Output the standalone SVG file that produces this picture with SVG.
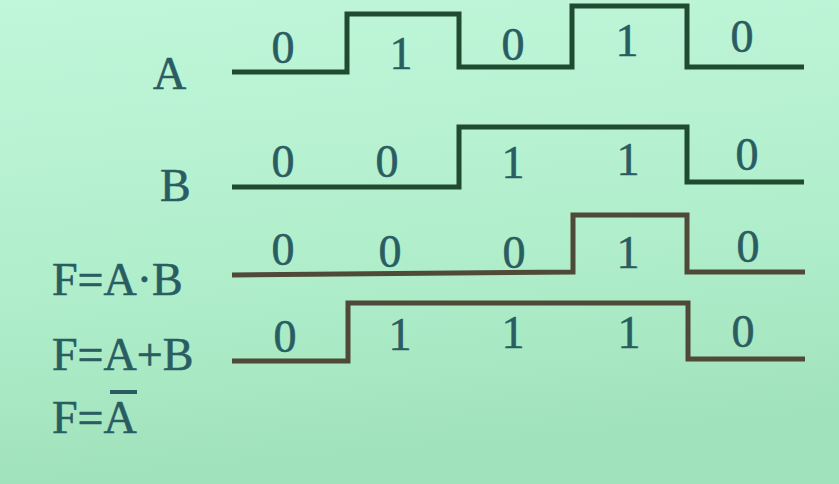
<svg xmlns="http://www.w3.org/2000/svg" width="839" height="484" viewBox="0 0 839 484">
<defs>
<linearGradient id="bg" x1="0" y1="0" x2="0.15" y2="1">
<stop offset="0" stop-color="#c0f6da"/>
<stop offset="0.6" stop-color="#b0eecb"/>
<stop offset="1" stop-color="#a0e2bb"/>
</linearGradient>
</defs>
<style>
.lbl{font-family:'Liberation Serif','DejaVu Serif',serif;font-size:46px;fill:#2a5d62;stroke:#2a5d62;stroke-width:0.6}
.dig{font-family:'Liberation Serif','DejaVu Serif',serif;font-size:46px;fill:#2a5d62;stroke:#2a5d62;stroke-width:0.6;text-anchor:middle}
.wg{fill:none;stroke:#1f4b30;stroke-width:5;stroke-linejoin:miter;stroke-linecap:butt}
.wb{fill:none;stroke:#4f4a38;stroke-width:5;stroke-linejoin:miter;stroke-linecap:butt}
</style>
<rect x="0" y="0" width="839" height="484" fill="url(#bg)"/>
<g id="signal-A">
<text class="lbl" x="153" y="89">A</text>
<path class="wg" d="M232,72 L347,72 L347,14 L459,14 L459,67 L572,67 L572,6 L687,6 L687,67 L804,67"/>
<text class="dig" x="283" y="63">0</text>
<text class="dig" x="401" y="69">1</text>
<text class="dig" x="513" y="60">0</text>
<text class="dig" x="627" y="56">1</text>
<text class="dig" x="742" y="52">0</text>
</g>
<g id="signal-B">
<text class="lbl" x="160" y="201">B</text>
<path class="wg" d="M232,187 L459,187 L459,127 L687,127 L687,182 L804,182"/>
<text class="dig" x="283" y="177">0</text>
<text class="dig" x="387" y="177">0</text>
<text class="dig" x="513" y="178">1</text>
<text class="dig" x="628" y="175">1</text>
<text class="dig" x="747" y="170">0</text>
</g>
<g id="signal-AND">
<text class="lbl" x="52" y="295">F=A·B</text>
<path class="wb" d="M232,275 L573,272 L573,215 L687,215 L687,272 L805,272"/>
<text class="dig" x="283" y="265">0</text>
<text class="dig" x="390" y="267">0</text>
<text class="dig" x="514" y="268">0</text>
<text class="dig" x="628" y="268">1</text>
<text class="dig" x="748" y="262">0</text>
</g>
<g id="signal-OR">
<text class="lbl" x="52" y="370">F=A+B</text>
<path class="wb" d="M232,361 L348,361 L348,303 L688,303 L688,359 L805,359"/>
<text class="dig" x="285" y="352">0</text>
<text class="dig" x="400" y="350">1</text>
<text class="dig" x="513" y="348">1</text>
<text class="dig" x="629" y="348">1</text>
<text class="dig" x="743" y="347">0</text>
</g>
<g id="signal-NOT">
<text class="lbl" x="52" y="433">F=A</text>
<rect x="110" y="390" width="27" height="4" fill="#2a5d62"/>
</g>
</svg>
